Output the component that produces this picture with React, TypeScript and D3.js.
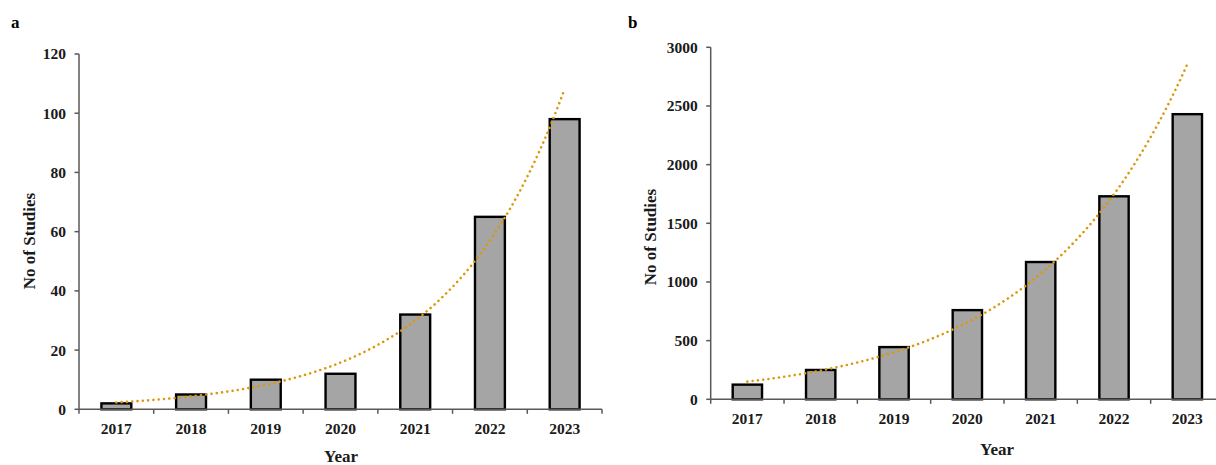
import React from "react";
import * as d3 from "d3";

// Yearly study counts for the two panels
const years = ["2017", "2018", "2019", "2020", "2021", "2022", "2023"];
const studiesA = [2, 5, 10, 12, 32, 65, 98];
const studiesB = [125, 250, 445, 760, 1170, 1730, 2430];
const ticksA = [0, 20, 40, 60, 80, 100, 120];
const ticksB = [0, 500, 1000, 1500, 2000, 2500, 3000];

const FONT = "'Liberation Serif', 'Times New Roman', serif";
const AXIS = "#595959";
const BAR_FILL = "#a5a5a5";
const TREND = "#DC980C";

// Exponential least-squares fit y = a * e^(b x), x = 1..n
function expFit(values: number[]) {
  const xs = values.map((_, i) => i + 1);
  const ls = values.map((v) => Math.log(v));
  const mx = d3.mean(xs)!;
  const ml = d3.mean(ls)!;
  const b =
    d3.sum(xs.map((x, i) => (x - mx) * (ls[i] - ml))) /
    d3.sum(xs.map((x) => (x - mx) ** 2));
  const a = Math.exp(ml - b * mx);
  return (x: number) => a * Math.exp(b * x);
}

type PanelProps = {
  letter: string;
  letterX: number;
  values: number[];
  ticks: number[];
  yMax: number;
  x0: number;
  x1: number;
  yTop: number;
  yBottom: number;
  yLabelX: number;
  yLabelY: number;
  xLabelX: number;
  xLabelY: number;
};

function Panel(p: PanelProps) {
  const x = d3
    .scaleBand<string>()
    .domain(years)
    .range([p.x0, p.x1])
    .paddingInner(0.6)
    .paddingOuter(0.3);
  const y = d3.scaleLinear().domain([0, p.yMax]).range([p.yBottom, p.yTop]);
  const step = x.step();
  const fit = expFit(p.values);

  const trendX = d3.scaleLinear().domain([1, years.length]).range([
    x(years[0])! + x.bandwidth() / 2,
    x(years[years.length - 1])! + x.bandwidth() / 2,
  ]);
  const samples = d3.range(1, years.length + 0.001, 0.05);
  const line = d3
    .line<number>()
    .x((t) => trendX(t))
    .y((t) => y(fit(t)))
    .curve(d3.curveMonotoneX);

  return (
    <g>
      <text x={p.letterX} y={28} fontFamily={FONT} fontWeight="bold" fontSize={17} fill="#000">
        {p.letter}
      </text>

      {/* bars */}
      {years.map((yr, i) => (
        <rect
          key={yr}
          x={x(yr)!}
          y={y(p.values[i])}
          width={x.bandwidth()}
          height={p.yBottom - y(p.values[i])}
          fill={BAR_FILL}
          stroke="#000"
          strokeWidth={2.4}
        />
      ))}

      {/* y axis */}
      <line x1={p.x0} x2={p.x0} y1={p.yTop} y2={p.yBottom} stroke={AXIS} strokeWidth={1.5} />
      {p.ticks.map((t) => (
        <g key={t}>
          <line x1={p.x0 - 4.5} x2={p.x0} y1={y(t)} y2={y(t)} stroke={AXIS} strokeWidth={1.5} />
          <text
            x={p.x0 - 13}
            y={y(t)}
            dy="0.35em"
            textAnchor="end"
            fontFamily={FONT}
            fontWeight="bold"
            fontSize={15.5}
            fill="#1a1a1a"
          >
            {t}
          </text>
        </g>
      ))}

      {/* x axis */}
      <line x1={p.x0} x2={p.x1} y1={p.yBottom} y2={p.yBottom} stroke={AXIS} strokeWidth={1.5} />
      {d3.range(years.length + 1).map((i) => (
        <line
          key={i}
          x1={p.x0 + i * step}
          x2={p.x0 + i * step}
          y1={p.yBottom}
          y2={p.yBottom + 4.5}
          stroke={AXIS}
          strokeWidth={1.5}
        />
      ))}
      {years.map((yr) => (
        <text
          key={yr}
          x={x(yr)! + x.bandwidth() / 2}
          y={p.yBottom + 24.5}
          textAnchor="middle"
          fontFamily={FONT}
          fontWeight="bold"
          fontSize={15.5}
          fill="#1a1a1a"
        >
          {yr}
        </text>
      ))}

      {/* exponential trendline, round dots */}
      <path
        d={line(samples)!}
        fill="none"
        stroke={TREND}
        strokeWidth={2.6}
        strokeLinecap="round"
        strokeDasharray="0.01 5.3"
      />

      <text
        x={p.xLabelX}
        y={p.xLabelY}
        textAnchor="middle"
        fontFamily={FONT}
        fontWeight="bold"
        fontSize={17}
        fill="#1a1a1a"
      >
        Year
      </text>
      <text
        transform={`translate(${p.yLabelX},${p.yLabelY}) rotate(-90)`}
        textAnchor="middle"
        fontFamily={FONT}
        fontWeight="bold"
        fontSize={17}
        fill="#1a1a1a"
      >
        No of Studies
      </text>
    </g>
  );
}

export default function App() {
  return (
    <div style={{ position: "absolute", left: 0, top: 0 }}>
      <svg width={1216} height={465} style={{ display: "block", background: "#fff" }}>
        <Panel
          letter="a"
          letterX={11}
          values={studiesA}
          ticks={ticksA}
          yMax={120}
          x0={79}
          x1={602}
          yTop={54}
          yBottom={409.3}
          yLabelX={35}
          yLabelY={241}
          xLabelX={341}
          xLabelY={462}
        />
        <Panel
          letter="b"
          letterX={628}
          values={studiesB}
          ticks={ticksB}
          yMax={3000}
          x0={710.7}
          x1={1224}
          yTop={47.3}
          yBottom={399.3}
          yLabelX={656}
          yLabelY={237}
          xLabelX={997}
          xLabelY={455}
        />
      </svg>
    </div>
  );
}
